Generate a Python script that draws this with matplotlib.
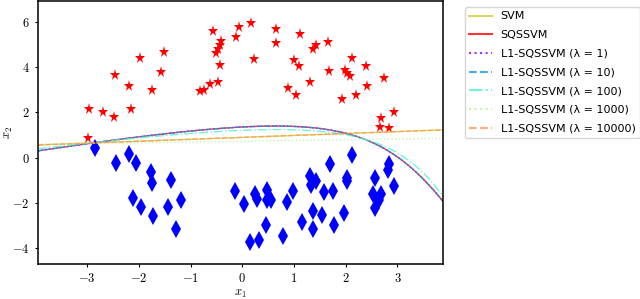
import numpy as np
import matplotlib
matplotlib.use("Agg")
import matplotlib.pyplot as plt
from matplotlib.ticker import FuncFormatter

plt.rcParams['mathtext.fontset'] = 'cm'

# class +1 (stars)
pos_x1 = [-2.96, -2.69, -2.48, -2.98, -2.46, -2.19, -2.16, -1.97, -1.74, -1.57, -1.51,
          -0.82, -0.75, -0.63, -0.47, -0.57, -0.50, -0.47, -0.44, -0.42, -0.43, -0.12, -0.06,
          0.16, 0.23, 0.65, 0.65, 1.11, 0.99, 1.09, 1.30, 0.88, 1.03, 1.37, 1.42, 1.66, 1.67,
          1.98, 2.03, 2.09, 2.13, 1.92, 2.19, 2.39, 2.42, 2.73, 2.94, 2.68, 2.67, 2.83]
pos_x2 = [2.15, 2.01, 1.78, 0.86, 3.64, 3.19, 2.15, 4.41, 2.98, 3.78, 4.67,
          2.93, 2.99, 3.27, 3.35, 5.60, 4.61, 4.81, 4.98, 5.16, 4.10, 5.32, 5.78,
          5.97, 4.37, 5.67, 5.08, 5.45, 4.34, 4.04, 3.36, 3.07, 2.79, 4.81, 4.98, 5.13, 3.85,
          3.90, 3.75, 3.60, 4.41, 2.58, 2.79, 4.04, 3.17, 3.53, 2.01, 1.75, 1.38, 1.33]

# class -1 (diamonds)
neg_x1 = [-2.85, -2.45, -2.20, -2.05, -1.77, -1.74, -1.38, -2.11, -1.95, -1.72, -1.44, -1.18,
          -1.29, -0.14, 0.04, 0.14, 0.33, 0.25, 0.29, 0.47, 0.47, 0.56, 0.45, 0.78, 0.87, 0.98,
          1.15, 1.30, 1.32, 1.42, 1.37, 1.36, 1.54, 1.57, 1.75, 1.70, 1.78, 1.96, 2.02, 2.02,
          2.12, 2.56, 2.53, 2.68, 2.64, 2.57, 2.83, 2.82, 2.94]
neg_x2 = [0.41, -0.25, 0.16, -0.25, -0.62, -1.10, -0.99, -1.79, -2.18, -2.58, -2.18, -1.88,
          -3.17, -1.45, -2.06, -3.74, -3.63, -1.59, -1.84, -1.41, -1.88, -1.88, -2.96, -3.47, -1.96, -1.47,
          -2.84, -0.80, -1.19, -1.04, -2.36, -3.14, -2.55, -1.51, -1.48, -0.28, -2.99, -2.44, -0.89, -1.04,
          0.12, -0.89, -1.61, -1.59, -1.85, -2.21, -0.30, -0.55, -1.24]

# decision functions f(x1, x2) = 0, coefficients of [x1^2, x1*x2, x2^2, x1, x2, 1]
svm_coef = [0.0, 0.0, 0.0, -0.085, 1.0, -0.90]
sqssvm_coef = [0.0876, -0.1931, -0.0456, 0.1572, 1.0, -1.274]
l1_lam1_coef = [0.0876, -0.1931, -0.0456, 0.1572, 1.0, -1.274]
l1_lam10_coef = [0.0876, -0.1931, -0.0456, 0.1572, 1.0, -1.274]
l1_lam100_coef = [0.0692, -0.1989, -0.028, 0.1549, 1.0, -1.1705]
l1_lam1000_coef = [0.0, 0.0, 0.0, -0.032, 1.0, -0.73]
l1_lam10000_coef = [0.0, 0.0, 0.0, -0.085, 1.0, -0.90]

labels = ['SVM', 'SQSSVM', 'L1-SQSSVM (λ = 1)', 'L1-SQSSVM (λ = 10)',
          'L1-SQSSVM (λ = 100)', 'L1-SQSSVM (λ = 1000)', 'L1-SQSSVM (λ = 10000)']
coefs = [svm_coef, sqssvm_coef, l1_lam1_coef, l1_lam10_coef, l1_lam100_coef,
         l1_lam1000_coef, l1_lam10000_coef]
rb = plt.cm.rainbow(np.linspace(0, 1, 6))
colors = [(0.75, 0.75, 0.0), 'r', rb[0], rb[1], rb[2], rb[3], rb[4]]
alphas = [0.6, 0.8, 0.8, 0.8, 0.8, 0.8, 0.8]
styles = ['-', '-', ':', '--', '-.', ':', '--']

fig = plt.figure(figsize=(6.4, 2.99), dpi=100)
ax = fig.add_axes([38/640, 1 - 264/299, 405/640, 263/299])

ax.plot(pos_x1, pos_x2, '*', color='r', markersize=8.2, markeredgewidth=0, linestyle='none')
ax.plot(neg_x1, neg_x2, 'd', color='b', markersize=9, markeredgewidth=0, linestyle='none')

xlim = (-3.95, 3.88)
ylim = (-4.7, 6.93)
gx, gy = np.meshgrid(np.linspace(*xlim, 400), np.linspace(*ylim, 400))
handles = []
for c, col, a, ls, lab in zip(coefs, colors, alphas, styles, labels):
    f = c[0]*gx**2 + c[1]*gx*gy + c[2]*gy**2 + c[3]*gx + c[4]*gy + c[5]
    ax.contour(gx, gy, f, levels=[0], colors=[col], alpha=a, linestyles=[ls], linewidths=1)
    h, = ax.plot([], [], color=col, alpha=a, linestyle=ls, linewidth=1.5, label=lab)
    handles.append(h)

ax.set_xlim(*xlim)
ax.set_ylim(*ylim)
ax.set_xticks([-3, -2, -1, 0, 1, 2, 3])
ax.set_yticks([-4, -2, 0, 2, 4, 6])
fmt = FuncFormatter(lambda v, p: r'$%d$' % v)
ax.xaxis.set_major_formatter(fmt)
ax.yaxis.set_major_formatter(fmt)
ax.tick_params(labelsize=9, length=2.5)
ax.set_xlabel(r'$x_1$', fontsize=9, labelpad=1)
ax.set_ylabel(r'$x_2$', fontsize=9)
ax.yaxis.set_label_coords(-0.056, 0.5)
for s in ax.spines.values():
    s.set_linewidth(1.1)

fig.legend(handles=handles, loc='upper left', bbox_to_anchor=(465/640, 1 - 7/299),
           borderaxespad=0, fontsize=8, labelspacing=0.78, frameon=True, fancybox=True)

fig.savefig('out.png', dpi=100)
